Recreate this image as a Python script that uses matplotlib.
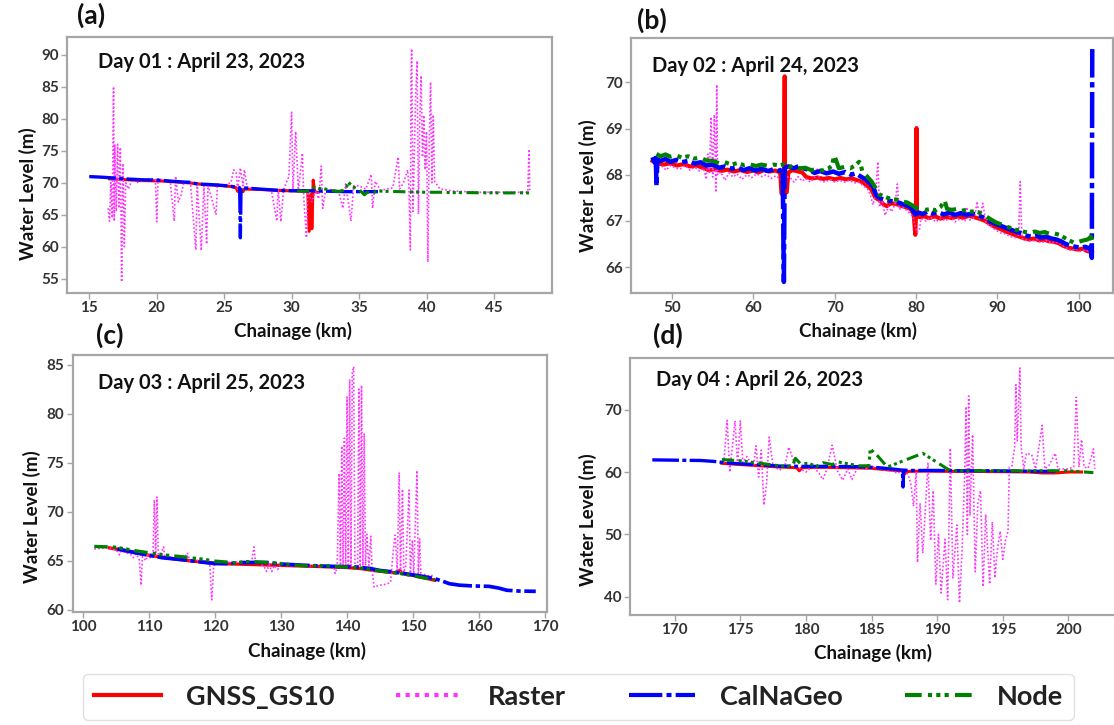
import matplotlib
matplotlib.use("Agg")
import matplotlib.pyplot as plt
from matplotlib.ticker import MultipleLocator

plt.rcParams['font.family'] = ['Lato', 'DejaVu Sans']
plt.rcParams['font.weight'] = 'bold'

# ---------------- Day 01 : April 23, 2023 ----------------
a_gnss_km = [16.5, 17.5, 18.5, 19.5, 20.5, 21.5, 22.5, 23.5, 24.5, 25.5, 25.9, 26.0, 26.4, 26.5,
             27.5, 28.5, 29.5, 30.5, 31.2, 31.3, 31.45, 31.5, 31.6, 31.7, 31.9]
a_gnss_wl = [70.6, 70.5, 70.35, 70.3, 70.25, 70.1, 69.95, 69.7, 69.6, 69.4, 69.2, 68.65, 68.6, 69.0,
             68.95, 68.85, 68.75, 68.7, 68.6, 62.4, 68.2, 62.8, 70.4, 68.6, 68.5]

a_raster_km = [16.4, 16.5, 16.6, 16.7, 16.8, 16.85, 16.9, 17.0, 17.1, 17.2, 17.3, 17.4, 17.5, 17.6,
               17.7, 17.9, 18.2, 18.5, 19.0, 19.5, 19.9, 20.0, 20.1, 20.6, 21.0, 21.3, 21.4, 21.6,
               21.8, 22.0, 22.5, 22.9, 23.0, 23.3, 23.5, 23.7, 23.8, 24.4, 24.5, 25.0, 25.5, 25.7,
               25.9, 26.0, 26.2, 26.4, 26.5, 26.7, 27.5, 28.5, 28.9, 29.0, 29.2, 29.4, 29.8, 30.0,
               30.1, 30.3, 30.5, 30.8, 30.9, 31.1, 31.2, 31.5, 31.8, 32.0, 32.2, 32.3, 32.5, 33.0,
               33.5, 33.8, 34.0, 34.2, 34.4, 34.6, 35.0, 35.5, 35.9, 36.0, 36.2, 36.6, 37.5, 37.9,
               38.0, 38.3, 38.6, 38.7, 38.8, 38.85, 38.9, 39.0, 39.2, 39.3, 39.4, 39.5, 39.6, 39.7,
               39.8, 39.9, 40.0, 40.1, 40.2, 40.3, 40.4, 40.5, 40.6, 41.0, 42.0, 44.0, 46.0, 47.5,
               47.6, 47.65]
a_raster_wl = [66.0, 64.0, 70.0, 64.5, 85.0, 64.0, 76.0, 65.5, 76.0, 66.0, 75.5, 54.5, 73.0, 60.0,
               70.0, 69.0, 70.5, 70.0, 70.3, 70.7, 70.5, 63.9, 70.6, 70.4, 70.2, 64.0, 71.0, 67.0,
               68.0, 70.0, 70.0, 59.5, 69.8, 59.4, 69.5, 60.4, 69.6, 65.0, 69.8, 69.6, 70.0, 72.0,
               71.5, 68.8, 72.3, 69.5, 72.0, 69.3, 69.0, 68.8, 64.0, 69.0, 63.9, 68.9, 71.0, 81.0,
               69.0, 78.0, 68.8, 74.6, 67.5, 61.4, 68.5, 67.0, 68.8, 67.5, 72.6, 66.0, 68.5, 69.0,
               68.5, 66.0, 69.8, 67.0, 64.0, 69.5, 69.5, 69.0, 71.3, 66.0, 70.2, 68.8, 69.2, 74.0,
               69.0, 70.0, 72.0, 69.0, 59.5, 86.5, 90.9, 65.5, 84.0, 89.0, 65.1, 80.0, 86.7, 74.0,
               80.5, 72.0, 78.0, 57.6, 76.0, 85.7, 70.0, 80.6, 70.2, 69.0, 68.7, 68.5, 68.5, 68.5,
               75.2, 68.5]

a_calnageo_km = [15.0, 16.0, 17.0, 18.0, 19.0, 20.0, 21.0, 22.0, 22.5, 23.0, 24.0, 25.0, 26.0, 26.15,
                 26.2, 26.25, 27.0, 28.0, 29.0, 30.0, 31.0, 32.0, 33.0, 34.0, 35.0, 36.4]
a_calnageo_wl = [70.95, 70.85, 70.7, 70.55, 70.45, 70.4, 70.25, 70.1, 70.05, 69.8, 69.7, 69.55, 69.3, 69.2,
                 61.4, 69.2, 69.1, 68.95, 68.8, 68.75, 68.75, 68.7, 68.65, 68.6, 68.6, 68.6]

a_node_km = [30.4, 31.0, 31.5, 31.7, 32.0, 32.5, 33.0, 33.5, 34.0, 34.2, 34.5, 35.0, 35.4, 35.6,
             35.9, 36.4, 37.0, 38.0, 39.0, 40.0, 41.0, 42.0, 43.0, 44.0, 45.0, 46.0, 47.0, 47.7]
a_node_wl = [68.7, 68.65, 68.8, 69.3, 69.1, 69.0, 68.75, 68.6, 68.9, 70.1, 69.4, 68.9, 68.1, 68.5,
             68.4, 68.7, 68.65, 68.6, 68.55, 68.5, 68.5, 68.45, 68.45, 68.42, 68.42, 68.4, 68.42, 68.4]

# ---------------- Day 02 : April 24, 2023 ----------------
b_gnss_km = [47.6, 48.2, 49.0, 49.8, 50.6, 51.4, 52.2, 53.0, 53.8, 54.5, 55.2, 56.0, 56.8, 57.6,
             58.4, 59.2, 60.0, 60.6, 61.3, 62.0, 62.7, 63.3, 63.45, 63.6, 63.75, 63.85, 63.9, 64.1,
             64.3, 64.8, 65.5, 66.0, 66.5, 67.2, 67.9, 68.6, 69.3, 70.0, 70.7, 71.4, 72.1, 72.8,
             73.4, 74.0, 74.5, 75.0, 75.5, 76.0, 76.4, 76.9, 77.5, 78.1, 78.7, 79.3, 79.7, 79.9,
             80.0, 80.05, 80.1, 80.5, 81.0, 81.6, 82.3, 83.0, 83.7, 84.4, 85.1, 85.8, 86.5, 87.2,
             87.9, 88.5, 89.1, 89.7, 90.3, 90.9, 91.5, 92.1, 92.7, 93.3, 93.9, 94.5, 95.1, 95.7,
             96.3, 96.9, 97.5, 98.1, 98.7, 99.3, 99.9, 100.5, 101.0, 101.6]
b_gnss_wl = [68.30, 68.25, 68.22, 68.25, 68.20, 68.23, 68.18, 68.20, 68.15, 68.10, 68.12, 68.08, 68.11, 68.07,
             68.10, 68.06, 68.09, 68.05, 68.10, 68.07, 68.09, 68.05, 67.60, 67.56, 67.62, 70.13, 67.65, 67.62,
             68.05, 68.10, 68.07, 68.05, 67.95, 67.92, 67.94, 67.91, 67.93, 67.90, 67.93, 67.90, 67.92, 67.88,
             67.84, 67.76, 67.68, 67.50, 67.45, 67.36, 67.32, 67.38, 67.37, 67.33, 67.30, 67.26, 67.15, 66.70,
             67.20, 69.01, 67.10, 67.08, 67.10, 67.06, 67.10, 67.05, 67.09, 67.06, 67.10, 67.07, 67.11, 67.08,
             67.04, 67.00, 66.93, 66.87, 66.83, 66.78, 66.74, 66.70, 66.66, 66.62, 66.60, 66.62, 66.58, 66.60,
             66.56, 66.55, 66.52, 66.46, 66.42, 66.40, 66.38, 66.40, 66.35, 66.32]

b_raster_km = [47.7, 48.0, 48.3, 48.8, 49.3, 49.8, 50.4, 51.0, 51.6, 52.2, 52.8, 53.4, 53.9, 54.2,
               54.4, 54.6, 54.8, 55.0, 55.2, 55.4, 55.5, 55.6, 56.0, 56.5, 57.0, 57.5, 58.0, 58.6,
               59.2, 59.8, 60.4, 61.0, 61.6, 62.2, 62.8, 63.3, 63.9, 64.5, 65.0, 65.5, 66.0, 66.4,
               67.0, 67.6, 67.8, 68.2, 68.8, 69.4, 70.0, 70.6, 71.2, 71.8, 72.4, 73.0, 73.5, 74.0,
               74.4, 74.7, 75.0, 75.3, 75.5, 75.8, 76.2, 76.6, 77.0, 77.4, 77.7, 77.9, 78.4, 79.0,
               79.6, 80.1, 80.4, 80.6, 81.2, 81.8, 82.4, 83.0, 83.6, 84.2, 84.8, 85.4, 86.0, 86.2,
               86.6, 87.2, 87.5, 87.8, 88.2, 88.6, 89.2, 89.8, 90.4, 91.0, 91.6, 92.2, 92.6, 92.8,
               93.0, 93.6, 94.2, 94.8, 95.4, 96.0, 96.6, 97.2, 97.8, 98.4, 99.0, 99.6, 100.2, 100.8,
               101.4]
b_raster_wl = [68.25, 68.12, 68.22, 68.18, 68.10, 68.20, 68.15, 68.12, 68.20, 68.10, 68.16, 68.08, 68.14, 67.90,
               68.45, 68.05, 69.25, 67.95, 69.30, 67.62, 69.95, 68.00, 68.06, 67.88, 68.04, 67.95, 68.02, 67.90,
               68.00, 67.94, 68.02, 67.96, 68.00, 67.92, 67.98, 67.90, 67.96, 67.94, 67.84, 67.96, 67.86, 67.92,
               67.84, 67.96, 68.15, 67.88, 67.84, 67.90, 67.84, 67.88, 67.84, 67.88, 67.82, 67.84, 67.76, 67.70,
               67.55, 67.35, 67.55, 68.28, 67.30, 67.45, 67.12, 67.32, 67.20, 67.36, 67.80, 67.25, 67.30, 67.20,
               67.10, 66.75, 66.80, 67.05, 67.00, 67.08, 66.98, 67.06, 67.00, 67.08, 66.98, 67.05, 67.00, 67.30,
               67.02, 67.08, 67.42, 67.05, 67.38, 66.95, 66.88, 66.80, 66.74, 66.72, 66.66, 66.64, 66.70, 67.85,
               66.62, 66.58, 66.55, 66.60, 66.52, 66.58, 66.52, 66.55, 66.50, 66.42, 66.36, 66.40, 66.34, 66.38,
               66.32]

b_calnageo_km = [47.6, 47.8, 48.0, 48.1, 48.2, 48.6, 49.2, 49.8, 50.5, 51.2, 52.0, 52.8, 53.5, 54.2,
                 55.0, 55.8, 56.5, 57.3, 58.0, 58.8, 59.5, 60.3, 61.0, 61.8, 62.5, 63.2, 63.6, 63.75,
                 63.85, 64.3, 65.0, 65.6, 66.3, 67.0, 67.5, 68.2, 69.0, 69.8, 70.5, 71.3, 72.0, 72.6,
                 73.2, 73.8, 74.3, 74.7, 75.1, 75.5, 76.0, 76.6, 77.2, 77.8, 78.4, 79.0, 79.5, 79.9,
                 80.3, 80.8, 81.4, 82.0, 82.7, 83.4, 84.1, 84.8, 85.5, 86.2, 86.9, 87.6, 88.2, 88.8,
                 89.4, 90.0, 90.6, 91.2, 91.8, 92.4, 93.0, 93.6, 94.2, 94.8, 95.4, 96.0, 96.6, 97.2,
                 97.8, 98.4, 99.0, 99.6, 100.2, 100.8, 101.3, 101.5, 101.6, 101.65]
b_calnageo_wl = [68.38, 68.28, 68.36, 67.75, 68.33, 68.30, 68.34, 68.28, 68.32, 68.27, 68.30, 68.24, 68.27, 68.20,
                 68.22, 68.15, 68.18, 68.13, 68.16, 68.10, 68.14, 68.09, 68.13, 68.08, 68.12, 68.08, 68.12, 65.68,
                 68.15, 68.18, 68.14, 68.19, 68.13, 68.10, 68.04, 68.08, 68.03, 68.07, 68.02, 68.06, 68.00, 68.03,
                 67.96, 67.90, 67.82, 67.75, 67.55, 67.50, 67.46, 67.44, 67.42, 67.40, 67.36, 67.33, 67.26, 67.14,
                 67.18, 67.15, 67.20, 67.16, 67.19, 67.14, 67.18, 67.13, 67.17, 67.13, 67.16, 67.12, 67.08, 67.02,
                 66.96, 66.92, 66.88, 66.84, 66.80, 66.76, 66.73, 66.68, 66.66, 66.68, 66.64, 66.66, 66.62, 66.60,
                 66.56, 66.50, 66.46, 66.44, 66.42, 66.44, 66.40, 66.45, 66.20, 70.72]

b_node_km = [48.1, 48.6, 49.2, 49.8, 50.5, 51.2, 52.0, 52.8, 53.5, 54.2, 55.0, 55.8, 56.5, 57.3,
             58.0, 58.8, 59.5, 60.3, 61.0, 61.8, 62.5, 63.2, 63.8, 64.4, 65.0, 65.7, 66.4, 67.1,
             67.8, 68.5, 69.2, 69.7, 69.9, 70.2, 70.5, 71.2, 71.9, 72.5, 73.0, 73.2, 73.4, 73.9,
             74.5, 75.0, 75.4, 75.9, 76.5, 77.1, 77.7, 78.3, 78.9, 79.5, 80.0, 80.6, 81.2, 81.8,
             82.4, 83.0, 83.5, 83.8, 84.4, 85.0, 85.6, 86.2, 86.8, 87.4, 88.0, 88.6, 89.2, 89.8,
             90.4, 91.0, 91.6, 92.2, 92.8, 93.4, 94.0, 94.6, 95.2, 95.8, 96.4, 97.0, 97.6, 98.2,
             98.8, 99.4, 100.0, 100.6, 101.1, 101.5, 101.7]
b_node_wl = [68.45, 68.40, 68.44, 68.39, 68.42, 68.37, 68.40, 68.35, 68.37, 68.31, 68.30, 68.25, 68.27, 68.22,
             68.25, 68.21, 68.23, 68.19, 68.22, 68.19, 68.22, 68.20, 68.23, 68.17, 68.19, 68.14, 68.15, 68.10,
             68.12, 68.09, 68.13, 68.20, 68.42, 68.30, 68.14, 68.17, 68.14, 68.20, 68.28, 68.22, 68.06, 67.98,
             67.86, 67.72, 67.58, 67.54, 67.50, 67.47, 67.46, 67.42, 67.40, 67.34, 67.28, 67.27, 67.24, 67.26,
             67.23, 67.30, 67.45, 67.26, 67.24, 67.26, 67.22, 67.24, 67.20, 67.21, 67.16, 67.10, 67.03, 66.97,
             66.93, 66.88, 66.85, 66.81, 66.79, 66.76, 66.74, 66.77, 66.74, 66.76, 66.72, 66.73, 66.70, 66.64,
             66.58, 66.53, 66.55, 66.58, 66.60, 66.66, 66.55]

# ---------------- Day 03 : April 25, 2023 ----------------
c_gnss_km = [104.0, 107.0, 110.0, 113.0, 116.0, 119.0, 121.0, 136.0, 138.0, 140.0, 142.0, 144.0,
             146.0, 147.5, 148.0, 148.3, 150.0, 152.0, 153.3]
c_gnss_wl = [66.3, 65.95, 65.55, 65.25, 65.0, 64.8, 64.7, 64.4, 64.35, 64.3, 64.2, 64.0,
             63.85, 63.75, 64.0, 63.7, 63.5, 63.2, 63.0]

c_raster_km = [101.7, 102.5, 103.5, 104.5, 105.3, 105.5, 105.8, 106.5, 107.2, 107.6, 108.0, 108.5,
               108.8, 109.0, 109.5, 109.8, 110.2, 110.6, 110.8, 111.0, 111.2, 111.4, 111.7, 112.2,
               112.4, 113.0, 113.8, 114.5, 115.2, 115.8, 116.2, 117.0, 117.8, 118.5, 119.2, 119.5,
               119.8, 120.5, 121.5, 122.5, 123.5, 124.5, 125.5, 125.9, 126.1, 126.8, 127.5, 127.8,
               128.2, 128.6, 129.0, 129.5, 130.0, 131.0, 132.0, 133.0, 134.0, 135.0, 136.0, 137.0,
               138.0, 138.2, 138.5, 138.8, 139.0, 139.2, 139.4, 139.6, 139.8, 140.0, 140.2, 140.4,
               140.6, 140.8, 141.0, 141.2, 141.6, 141.8, 142.0, 142.2, 142.4, 142.6, 142.8, 143.0,
               143.3, 143.6, 143.8, 144.1, 145.0, 146.0, 146.6, 147.0, 147.3, 147.6, 147.9, 148.1,
               148.4, 148.6, 148.9, 149.4, 149.6, 149.9, 150.1, 150.6, 150.8, 151.0, 151.2, 151.8,
               152.5, 153.0]
c_raster_wl = [66.2, 66.25, 66.3, 66.25, 65.9, 65.6, 66.0, 65.8, 65.65, 65.3, 65.7, 65.2,
               62.5, 65.4, 65.0, 65.6, 65.3, 66.0, 71.2, 65.5, 71.5, 65.4, 65.5, 66.4,
               65.3, 65.4, 65.2, 65.3, 65.1, 65.8, 65.0, 65.1, 64.9, 65.0, 64.6, 61.0,
               64.5, 64.8, 64.9, 64.8, 64.9, 64.9, 64.8, 66.4, 64.9, 64.8, 64.3, 63.9,
               64.6, 63.9, 64.5, 64.1, 64.6, 64.5, 64.4, 64.5, 64.4, 64.5, 64.4, 64.3,
               64.4, 63.7, 64.3, 73.9, 64.3, 76.7, 64.3, 77.5, 64.5, 81.7, 64.4, 83.5,
               64.5, 84.2, 84.8, 64.4, 64.3, 82.5, 64.4, 82.9, 64.3, 78.0, 64.5, 67.7,
               64.5, 67.5, 64.0, 62.3, 62.5, 62.6, 62.8, 66.0, 67.6, 64.0, 74.0, 63.8,
               72.3, 63.8, 64.5, 72.2, 63.7, 67.1, 63.6, 74.2, 63.5, 67.2, 63.4, 63.6,
               63.4, 63.5]

c_calnageo_km = [105.2, 108.0, 110.0, 112.0, 115.0, 118.0, 120.0, 122.0, 124.0, 126.0, 128.0, 130.0,
                 133.0, 136.0, 139.0, 141.5, 143.5, 145.0, 147.0, 149.5, 151.0, 153.3, 154.5, 155.5,
                 157.0, 159.0, 161.5, 163.0, 164.2, 166.0, 168.6]
c_calnageo_wl = [66.2, 65.8, 65.55, 65.3, 65.1, 64.85, 64.7, 64.7, 64.8, 64.82, 64.8, 64.65,
                 64.55, 64.45, 64.4, 64.35, 64.2, 64.0, 63.85, 63.6, 63.45, 63.16, 62.9, 62.65,
                 62.5, 62.42, 62.38, 62.2, 61.98, 61.9, 61.87]

c_node_km = [101.7, 103.0, 104.5, 106.0, 108.0, 110.0, 112.0, 115.0, 118.0, 120.0, 121.8, 123.0,
             124.5, 126.0, 128.0, 130.0, 132.0, 134.0, 136.0, 138.0, 140.0, 142.0, 144.0, 146.0,
             148.0, 150.0, 152.0, 153.3]
c_node_wl = [66.45, 66.42, 66.4, 66.25, 66.0, 65.8, 65.6, 65.4, 65.15, 64.95, 64.85, 64.75,
             64.9, 64.88, 64.82, 64.7, 64.55, 64.45, 64.5, 64.4, 64.35, 64.25, 64.05, 63.85,
             63.7, 63.45, 63.2, 63.05]

# ---------------- Day 04 : April 26, 2023 ----------------
d_gnss_km = [173.6, 175.0, 176.5, 178.0, 179.3, 179.5, 179.7, 181.0, 183.0, 185.0, 186.5, 187.3,
             187.5, 187.8, 189.0, 191.0, 193.0, 195.0, 197.0, 198.0, 199.0, 200.0, 201.0]
d_gnss_wl = [61.4, 61.2, 61.0, 60.8, 60.7, 60.2, 60.7, 60.75, 60.7, 60.6, 60.3, 60.2,
             59.7, 60.1, 60.15, 60.1, 60.1, 60.05, 60.0, 59.85, 59.85, 60.0, 60.0]

d_raster_km = [173.75, 174.0, 174.2, 174.6, 174.8, 175.0, 175.2, 175.5, 176.0, 176.2, 176.4, 176.6,
               176.8, 177.0, 177.2, 177.5, 178.0, 178.4, 178.7, 179.2, 180.0, 180.5, 181.0, 181.3,
               181.6, 182.0, 182.4, 182.8, 183.2, 183.5, 184.0, 184.5, 185.0, 185.5, 186.0, 186.5,
               187.0, 187.4, 187.8, 188.0, 188.2, 188.4, 188.5, 188.7, 188.9, 189.1, 189.3, 189.5,
               189.7, 189.9, 190.1, 190.3, 190.6, 190.8, 191.0, 191.2, 191.5, 191.7, 191.9, 192.1,
               192.2, 192.3, 192.4, 192.5, 192.7, 192.9, 193.1, 193.3, 193.5, 193.7, 194.0, 194.2,
               194.4, 194.6, 194.8, 195.0, 195.2, 195.4, 195.5, 195.7, 195.9, 196.0, 196.1, 196.3,
               196.4, 196.6, 196.8, 197.2, 197.5, 198.0, 198.2, 198.5, 199.0, 199.2, 200.0, 200.4,
               200.6, 200.8, 201.0, 201.2, 201.5, 201.9, 202.0]
d_raster_wl = [61.5, 68.3, 60.0, 68.2, 61.0, 68.2, 61.5, 62.5, 60.8, 64.2, 59.2, 63.5,
               54.7, 58.0, 65.6, 61.0, 60.3, 61.0, 64.0, 61.0, 60.0, 61.0, 59.8, 58.8,
               60.5, 64.3, 60.2, 58.7, 60.5, 58.8, 61.0, 60.5, 60.8, 60.8, 60.3, 60.2,
               59.8, 60.5, 59.5, 58.0, 54.5, 60.0, 45.5, 55.0, 47.0, 54.0, 61.4, 49.0,
               57.0, 42.0, 50.0, 40.6, 49.2, 39.5, 63.8, 43.0, 51.5, 39.0, 47.5, 59.9,
               70.5, 50.0, 72.2, 53.0, 66.0, 44.0, 55.0, 57.0, 41.6, 53.2, 42.0, 52.0,
               43.0, 47.8, 50.5, 46.0, 49.0, 50.5, 60.8, 61.0, 64.0, 74.0, 65.0, 76.7,
               64.0, 60.5, 63.0, 62.8, 60.5, 67.5, 60.5, 61.0, 63.0, 60.5, 60.5, 60.8,
               72.0, 60.8, 65.2, 60.8, 60.6, 63.7, 60.5]

d_calnageo_km = [168.3, 170.0, 172.0, 173.0, 174.0, 176.0, 178.0, 180.0, 182.0, 184.0, 185.5, 186.5,
                 187.35, 187.4, 187.45, 188.0, 190.0, 192.0, 194.0, 196.0, 198.0, 199.0]
d_calnageo_wl = [61.95, 61.9, 61.85, 61.7, 61.45, 61.2, 60.95, 60.9, 60.9, 60.85, 60.7, 60.5,
                 60.3, 57.6, 60.3, 60.25, 60.25, 60.2, 60.2, 60.15, 60.1, 60.1]

d_node_km = [173.6, 175.0, 178.0, 178.6, 179.0, 179.2, 179.6, 180.2, 180.8, 181.3, 182.0, 182.5,
             184.0, 184.8, 184.9, 185.5, 186.2, 188.9, 191.0, 195.0, 200.0, 201.9]
d_node_wl = [62.0, 61.8, 61.0, 60.9, 61.1, 62.2, 61.3, 61.4, 60.9, 61.5, 61.2, 61.6,
             61.0, 61.0, 63.7, 62.5, 60.8, 63.0, 60.2, 60.2, 60.2, 59.9]

series_names = ['GNSS_GS10', 'Raster', 'CalNaGeo', 'Node']
day_titles = ['Day 01 : April 23, 2023', 'Day 02 : April 24, 2023',
              'Day 03 : April 25, 2023', 'Day 04 : April 26, 2023']
panel_tags = ['(a)', '(b)', '(c)', '(d)']

# line styles for the four sources
styles = {
    'GNSS_GS10': dict(color='#ff0000', lw=2.2, ls='-'),
    'Raster': dict(color='#ff33ff', lw=1.2, ls=(0, (1, 1.3))),
    'CalNaGeo': dict(color='#0000ff', lw=2.4, ls=(0, (8, 1.0, 1.2, 1.0))),
    'Node': dict(color='#008000', lw=2.2, ls=(0, (4, 1.5, 1, 1, 1, 1, 1, 1.5))),
}

panels = [
    dict(series=[(a_gnss_km, a_gnss_wl), (a_raster_km, a_raster_wl),
                 (a_calnageo_km, a_calnageo_wl), (a_node_km, a_node_wl)],
         rect=[67, 37, 485, 256], xlim=(13.35, 49.3), ylim=(52.77, 92.75),
         xstep=5, ystep=5, title_xy=(0.064, 0.902), lw_scale=1.0,
         ylab=(-0.062, 0.39), xlab=(0.467, -0.112)),
    dict(series=[(b_gnss_km, b_gnss_wl), (b_raster_km, b_raster_wl),
                 (b_calnageo_km, b_calnageo_wl), (b_node_km, b_node_wl)],
         rect=[631, 38, 482, 255], xlim=(44.96, 104.2), ylim=(65.44, 70.96),
         xstep=10, ystep=1, title_xy=(0.043, 0.891), lw_scale=1.35,
         ylab=(-0.0705, 0.42), xlab=(0.471, -0.1125)),
    dict(series=[(c_gnss_km, c_gnss_wl), (c_raster_km, c_raster_wl),
                 (c_calnageo_km, c_calnageo_wl), (c_node_km, c_node_wl)],
         rect=[72.5, 355, 474.5, 257], xlim=(98.4, 170.3), ylim=(59.76, 85.99),
         xstep=10, ystep=5, title_xy=(0.054, 0.891), lw_scale=1.1,
         ylab=(-0.066, 0.37), xlab=(0.4936, -0.1155)),
    dict(series=[(d_gnss_km, d_gnss_wl), (d_raster_km, d_raster_wl),
                 (d_calnageo_km, d_calnageo_wl), (d_node_km, d_node_wl)],
         rect=[630, 358, 487, 257], xlim=(166.6, 203.7), ylim=(37.05, 78.3),
         xstep=5, ystep=10, title_xy=(0.053, 0.914), lw_scale=1.0,
         ylab=(-0.068, 0.37), xlab=(0.498, -0.114)),
]

W, H = 1114, 725
fig = plt.figure(figsize=(W / 100, H / 100), dpi=100)

spine_col = '#a6a6a6'
tick_col = '#333333'
handles = None

for p, title, tag in zip(panels, day_titles, panel_tags):
    x0, y0, w, h = p['rect']
    ax = fig.add_axes([x0 / W, 1 - (y0 + h) / H, w / W, h / H])
    lines = []
    for (xs, ys), name in zip(p['series'], series_names):
        st = dict(styles[name])
        if name != 'Raster':
            st['lw'] = st['lw'] * p['lw_scale']
        ln, = ax.plot(xs, ys, label=name, **st)
        lines.append(ln)
    if handles is None:
        handles = lines
    ax.set_xlim(*p['xlim'])
    ax.set_ylim(*p['ylim'])
    ax.xaxis.set_major_locator(MultipleLocator(p['xstep']))
    ax.yaxis.set_major_locator(MultipleLocator(p['ystep']))
    for s in ax.spines.values():
        s.set_color(spine_col)
        s.set_linewidth(1.6)
    ax.tick_params(direction='out', length=4, width=1, color=spine_col,
                   labelcolor=tick_col, labelsize=11, pad=2)
    for lab in ax.get_xticklabels() + ax.get_yticklabels():
        lab.set_fontweight('bold')
    ax.set_xlabel('Chainage (km)', fontsize=13.5, fontweight='bold', color='#111111')
    ax.set_ylabel('Water Level (m)', fontsize=13.5, fontweight='bold', color='#111111')
    ax.xaxis.set_label_coords(*p['xlab'])
    ax.yaxis.set_label_coords(*p['ylab'])
    ax.text(p['title_xy'][0], p['title_xy'][1], title, transform=ax.transAxes,
            fontsize=14.5, fontweight='bold', color='#111111', ha='left', va='center')

# panel tags
tag_pos = [(77, 15), (637, 20), (96, 335), (653, 335)]
for tag, (tx, ty) in zip(panel_tags, tag_pos):
    fig.text(tx / W, 1 - ty / H, tag, fontsize=19, fontweight='bold',
             color='#111111', ha='left', va='center')

leg = fig.legend(handles, series_names, loc='upper left', ncol=4,
                 bbox_to_anchor=(83 / W, 1 - 674 / H), frameon=True, fancybox=True,
                 fontsize=19.5, handlelength=2.47, handletextpad=0.92, columnspacing=2.3,
                 borderpad=0.4, borderaxespad=0.0)
leg.get_frame().set_edgecolor('#d9d9d9')
leg.get_frame().set_linewidth(1.0)
for t in leg.get_texts():
    t.set_fontweight('bold')
    t.set_color('#222222')
for ln in leg.get_lines():
    ln.set_linewidth(3.0)

fig.savefig('out.png', dpi=100)
